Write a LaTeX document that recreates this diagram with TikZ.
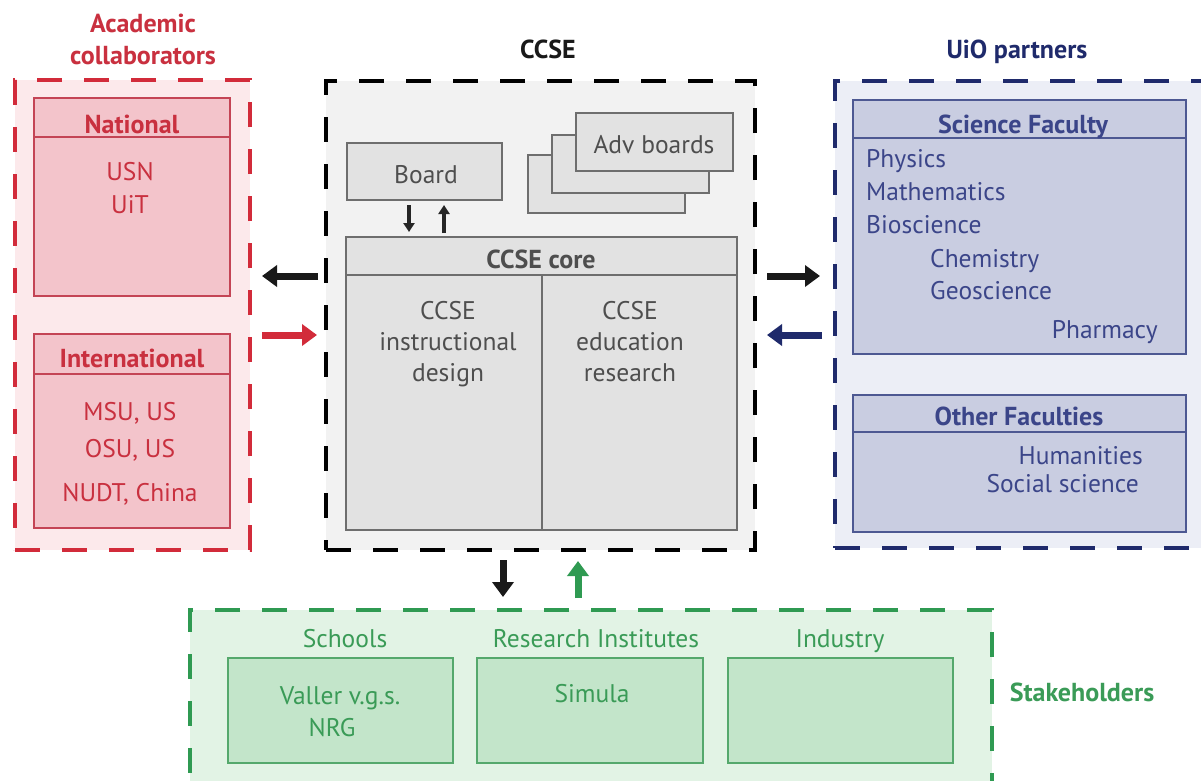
\documentclass[tikz,border=0pt]{standalone}
\usepackage{fontspec}
\setmainfont{PT Sans}
\usetikzlibrary{arrows.meta}
\definecolor{redL}{HTML}{D22B3A}
\definecolor{redO}{HTML}{FCE9EB}
\definecolor{redI}{HTML}{F3C4CB}
\definecolor{redB}{HTML}{C44455}
\definecolor{redT}{HTML}{C9303F}
\definecolor{grO}{HTML}{F2F2F2}
\definecolor{grI}{HTML}{E2E2E2}
\definecolor{grB}{HTML}{6E6E6E}
\definecolor{grT}{HTML}{4E4E4E}
\definecolor{blL}{HTML}{1F2A6B}
\definecolor{blO}{HTML}{ECEEF6}
\definecolor{blI}{HTML}{C9CDE1}
\definecolor{blB}{HTML}{4D5892}
\definecolor{blT}{HTML}{3B4589}
\definecolor{gnL}{HTML}{2F9A52}
\definecolor{gnO}{HTML}{E2F3E5}
\definecolor{gnI}{HTML}{C3E5CA}
\definecolor{gnB}{HTML}{55A86C}
\definecolor{gnT}{HTML}{3A9B57}
\begin{document}
\begin{tikzpicture}[x=1pt,y=-1pt,
  outerbox/.style={rectangle,inner sep=0,line width=4pt,dash pattern=on 25pt off 22pt},
  innerbox/.style={rectangle,inner sep=0,line width=2pt},
  txt/.style={inner sep=0,font=\fontsize{25.5}{30}\selectfont},
  btxt/.style={inner sep=0,font=\fontsize{26}{30}\selectfont\bfseries},
  bigarrow/.style={line width=7pt,-{Triangle[length=15pt,width=21pt]}},
  smallarrow/.style={line width=4pt,-{Triangle[length=9pt,width=11pt]}}
]
\useasboundingbox (0,0) rectangle (1201,780);
\fill[white] (0,0) rectangle (1201,780);

% ---------- Academic collaborators (red) ----------
\node[outerbox,draw=redL,fill=redO,minimum width=235pt,minimum height=470pt] (redouter) at (132.5,315) {};
\node[btxt,text=redT,anchor=base] (acad1) at (143,32) {Academic};
\node[btxt,text=redT,anchor=base] (acad2) at (143,64) {collaborators};
\node[innerbox,draw=redB,fill=redI,minimum width=196pt,minimum height=198pt] (natl) at (132,197) {};
\draw[redB,line width=2pt] (34,137) -- (230,137);
\node[btxt,text=redT,anchor=base] (natlT) at (132,133) {National};
\node[txt,text=redT,anchor=base] (usn) at (130,180) {USN};
\node[txt,text=redT,anchor=base] (uit) at (130,213) {UiT};
\node[innerbox,draw=redB,fill=redI,minimum width=196pt,minimum height=194pt] (intl) at (132,431) {};
\draw[redB,line width=2pt] (34,374) -- (230,374);
\node[btxt,text=redT,anchor=base] (intlT) at (132,367) {International};
\node[txt,text=redT,anchor=base] (msu) at (130,420) {MSU, US};
\node[txt,text=redT,anchor=base] (osu) at (130,457) {OSU, US};
\node[txt,text=redT,anchor=base] (nudt) at (130,501) {NUDT, China};

% ---------- CCSE (gray) ----------
\node[outerbox,draw=black,fill=grO,minimum width=429pt,minimum height=469pt] (ccse) at (540.5,315.5) {};
\node[btxt,text=black!90,anchor=base] (ccseT) at (548,58) {CCSE};
\node[innerbox,draw=grB,fill=grI,minimum width=155pt,minimum height=57pt] (board) at (424.5,171.5) {};
\node[txt,text=grT,anchor=base] (boardT) at (426,183) {Board};
\node[innerbox,draw=grB,fill=grI,minimum width=157pt,minimum height=58pt] (adv3) at (606.5,184) {};
\node[innerbox,draw=grB,fill=grI,minimum width=157pt,minimum height=58pt] (adv2) at (630.5,164) {};
\node[innerbox,draw=grB,fill=grI,minimum width=157pt,minimum height=58pt] (adv1) at (654.5,142) {};
\node[txt,text=grT,anchor=base] (advT) at (654,153) {Adv boards};
\node[innerbox,draw=grB,fill=grI,minimum width=391pt,minimum height=293pt] (core) at (541.5,383.5) {};
\draw[grB,line width=2pt] (346,275) -- (737,275);
\draw[grB,line width=2pt] (542,275) -- (542,530);
\node[btxt,text=grT,anchor=base] (coreT) at (541,268) {CCSE core};
\node[txt,text=grT,anchor=base] (id1) at (448,319) {CCSE};
\node[txt,text=grT,anchor=base] (id2) at (448,350) {instructional};
\node[txt,text=grT,anchor=base] (id3) at (448,381) {design};
\node[txt,text=grT,anchor=base] (er1) at (630,319) {CCSE};
\node[txt,text=grT,anchor=base] (er2) at (630,350) {education};
\node[txt,text=grT,anchor=base] (er3) at (630,381) {research};
\coordinate (bd1) at (409,205); \coordinate (bd2) at (409,232);
\coordinate (bu1) at (444,233); \coordinate (bu2) at (444,205);
\draw[smallarrow,black!85] (bd1) -- (bd2);
\draw[smallarrow,black!85] (bu1) -- (bu2);

% ---------- UiO partners (blue) ----------
\node[outerbox,draw=blL,fill=blO,minimum width=380pt,minimum height=467pt] (blue) at (1025,314.5) {};
\node[btxt,text=blL,anchor=base] (uioT) at (1017,58) {UiO partners};
\node[innerbox,draw=blB,fill=blI,minimum width=333pt,minimum height=254pt] (sci) at (1019.5,227) {};
\draw[blB,line width=2pt] (853,138) -- (1186,138);
\node[btxt,text=blT,anchor=base] (sciT) at (1023,133) {Science Faculty};
\node[txt,text=blT,anchor=base west] (phys) at (866,167) {Physics};
\node[txt,text=blT,anchor=base west] (math) at (866,200) {Mathematics};
\node[txt,text=blT,anchor=base west] (bio) at (866,233) {Bioscience};
\node[txt,text=blT,anchor=base west] (chem) at (930,267) {Chemistry};
\node[txt,text=blT,anchor=base west] (geo) at (930,299) {Geoscience};
\node[txt,text=blT,anchor=base east] (pharm) at (1158,338) {Pharmacy};
\node[innerbox,draw=blB,fill=blI,minimum width=333pt,minimum height=137pt] (oth) at (1019.5,463.5) {};
\draw[blB,line width=2pt] (853,432) -- (1186,432);
\node[btxt,text=blT,anchor=base] (othT) at (1019,425) {Other Faculties};
\node[txt,text=blT,anchor=base east] (hum) at (1143,464) {Humanities};
\node[txt,text=blT,anchor=base east] (soc) at (1139,492) {Social science};

% ---------- Stakeholders (green) ----------
\node[outerbox,draw=gnL,fill=gnO,minimum width=802pt,minimum height=185pt] (green) at (591,702.5) {};
\node[btxt,text=gnT,anchor=base] (stakeT) at (1082,701) {Stakeholders};
\node[txt,text=gnT,anchor=base] (schT) at (345,647) {Schools};
\node[txt,text=gnT,anchor=base] (resT) at (596,647) {Research Institutes};
\node[txt,text=gnT,anchor=base] (indT) at (840,647) {Industry};
\node[innerbox,draw=gnB,fill=gnI,minimum width=225pt,minimum height=105pt] (sch) at (340.5,710.5) {};
\node[innerbox,draw=gnB,fill=gnI,minimum width=226pt,minimum height=105pt] (res) at (590,710.5) {};
\node[innerbox,draw=gnB,fill=gnI,minimum width=225pt,minimum height=105pt] (ind) at (840.5,710.5) {};
\node[txt,text=gnT,anchor=base] (valler) at (340,704) {Valler v.g.s.};
\node[txt,text=gnT,anchor=base] (nrg) at (332,736) {NRG};
\node[txt,text=gnT,anchor=base] (simula) at (592,702) {Simula};

% ---------- Arrows ----------
\coordinate (la1) at (318,276); \coordinate (la2) at (262,276);
\coordinate (ra1) at (262,335); \coordinate (ra2) at (317,335);
\coordinate (rb1) at (767,276); \coordinate (rb2) at (820,276);
\coordinate (bb1) at (822,335); \coordinate (bb2) at (767,335);
\coordinate (dn1) at (503,560); \coordinate (dn2) at (503,597);
\coordinate (up1) at (578,598); \coordinate (up2) at (578,561);
\draw[bigarrow,black!90] (la1) -- (la2);
\draw[bigarrow,redL] (ra1) -- (ra2);
\draw[bigarrow,black!90] (rb1) -- (rb2);
\draw[bigarrow,blL] (bb1) -- (bb2);
\draw[bigarrow,black!90] (dn1) -- (dn2);
\draw[bigarrow,gnL] (up1) -- (up2);
\end{tikzpicture}
\end{document}
